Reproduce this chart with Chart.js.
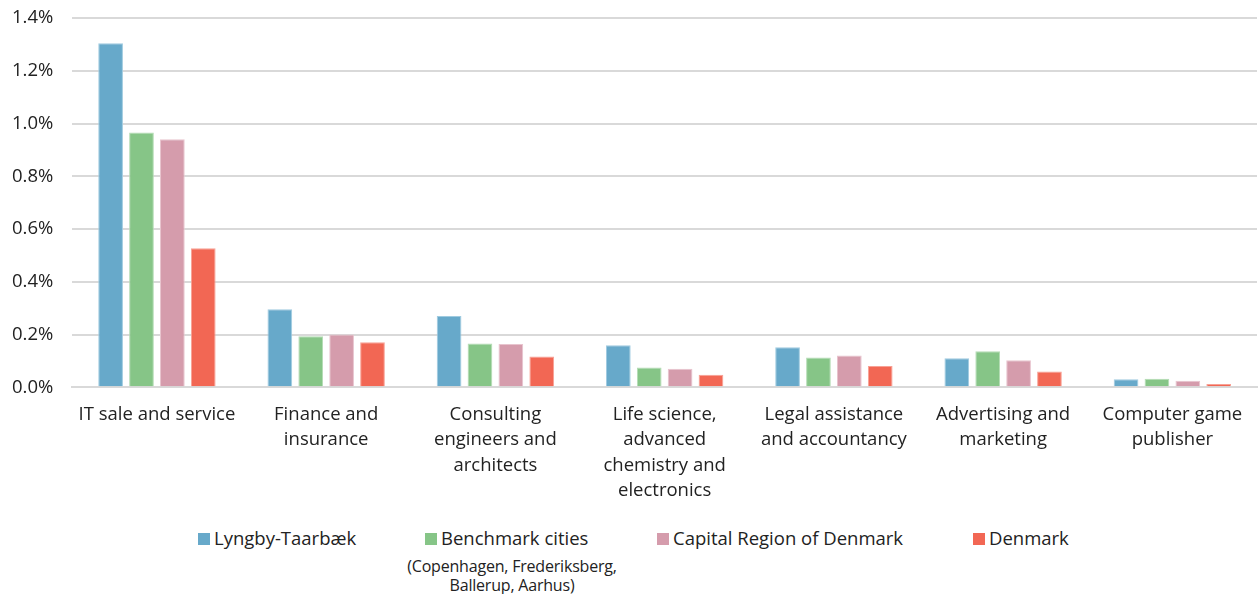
<!DOCTYPE html>
<html>
<head>
<meta charset="utf-8">
<script src="https://cdn.jsdelivr.net/npm/chart.js@4.4.0/dist/chart.umd.min.js"></script>
<style>
  body { margin: 0; background: #fff; font-family: "Open Sans", sans-serif; overflow: hidden; }
  #wrap { position: absolute; top: -12px; left: -7px; width: 1266px; height: 522px; }
  .legend { position: absolute; top: 525px; left: 0; width: 1259px; height: 69px; font-size: 18.5px; color: #222; }
  .item { position: absolute; top: 0; white-space: nowrap; }
  .sw { display: inline-block; width: 12px; height: 12px; margin-right: 4px; vertical-align: 0px; }
  .sub { position: absolute; top: 32px; left: 392px; width: 240px; text-align: center; font-size: 16px; line-height: 19px; color: #222; letter-spacing: -0.2px; }
</style>
</head>
<body>
<div id="wrap"><canvas id="chart"></canvas></div>
<div class="legend" id="legend"></div>
<script>
const categories = [
  ['IT sale and service'],
  ['Finance and', 'insurance'],
  ['Consulting', 'engineers and', 'architects'],
  ['Life science,', 'advanced', 'chemistry and', 'electronics'],
  ['Legal assistance', 'and accountancy'],
  ['Advertising and', 'marketing'],
  ['Computer game', 'publisher']
];
const lyngby    = [1.305, 0.296, 0.271, 0.160, 0.152, 0.110, 0.031];
const benchmark = [0.966, 0.194, 0.166, 0.075, 0.113, 0.137, 0.033];
const capital   = [0.941, 0.200, 0.164, 0.071, 0.121, 0.103, 0.025];
const denmark   = [0.527, 0.171, 0.117, 0.048, 0.081, 0.060, 0.013];

const seriesNames  = ['Lyngby-Taarbæk', 'Benchmark cities', 'Capital Region of Denmark', 'Denmark'];
const seriesColors = ['#67a9ca', '#86c587', '#d59cac', '#f26754'];
const edgeColors   = ['#9fcbe0', '#b3dcb3', '#e8c4ce', '#f8a195'];
const seriesData   = [lyngby, benchmark, capital, denmark];

// HTML legend
const legendEl = document.getElementById('legend');
const legendX = [198, 425, 657, 973];
legendEl.innerHTML = seriesNames.map((n, i) =>
  `<span class="item" style="left:${legendX[i]}px"><span class="sw" style="background:${seriesColors[i]}"></span>${n}</span>`
).join('') + '<div class="sub">(Copenhagen, Frederiksberg,<br>Ballerup, Aarhus)</div>';

Chart.defaults.font.family = '"Open Sans", sans-serif';
Chart.defaults.color = '#222';

new Chart(document.getElementById('chart'), {
  type: 'bar',
  data: {
    labels: categories,
    datasets: seriesData.map((d, i) => ({
      label: seriesNames[i],
      data: d,
      backgroundColor: seriesColors[i],
      borderColor: edgeColors[i],
      borderWidth: 1,
      categoryPercentage: 0.73,
      barPercentage: 0.8,
    }))
  },
  options: {
    responsive: true,
    maintainAspectRatio: false,
    animation: false,
    layout: { padding: { top: 0, right: 2, left: 0 } },
    plugins: { legend: { display: false }, tooltip: { enabled: false } },
    scales: {
      y: {
        min: 0, max: 1.4,
        ticks: { stepSize: 0.2, font: { size: 18.5 }, color: '#222', padding: 19,
                 callback: v => v.toFixed(1) + '%' },
        grid: { color: '#d9d9d9', lineWidth: 2, drawTicks: false },
        border: { display: false }
      },
      x: {
        ticks: { font: { size: 18.5, lineHeight: 1.36 }, color: '#222', padding: 7, maxRotation: 0, autoSkip: false },
        grid: { display: false },
        border: { color: '#d9d9d9', width: 2 }
      }
    }
  }
});
</script>
</body>
</html>
